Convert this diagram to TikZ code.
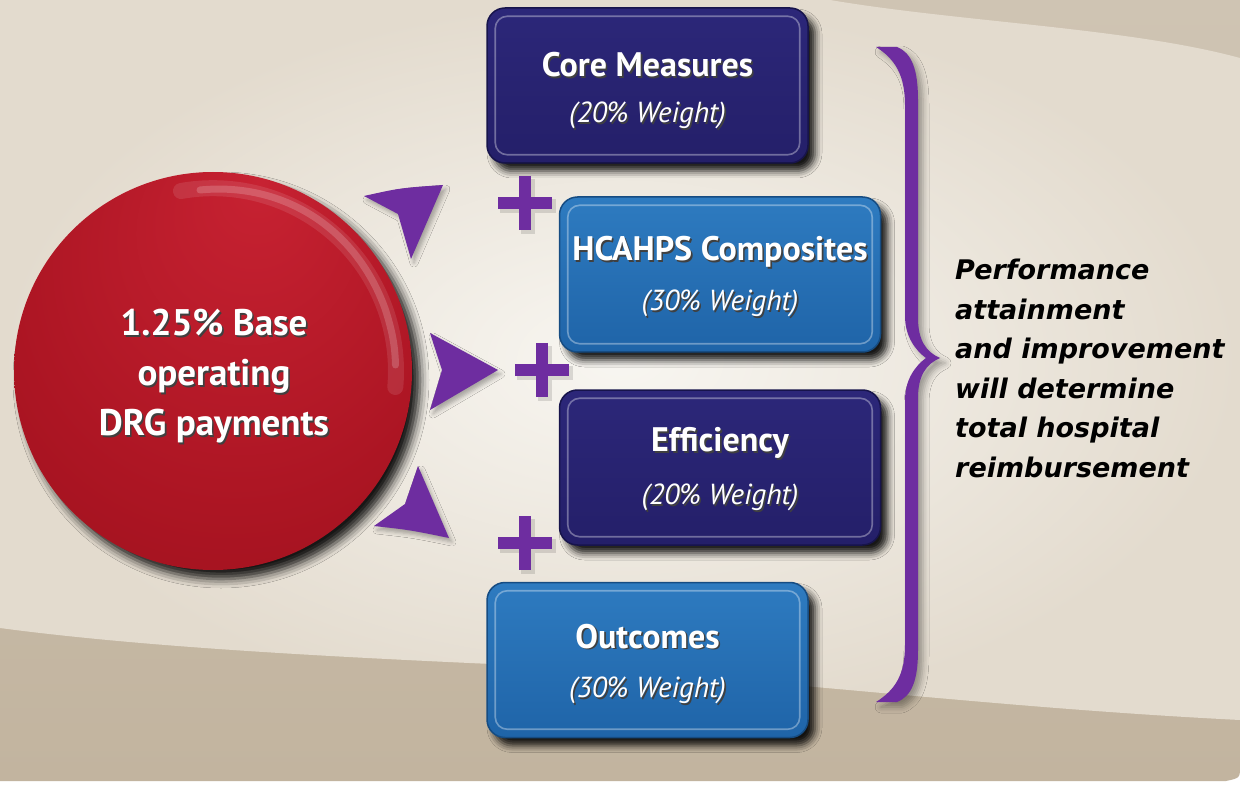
\documentclass[tikz,border=0pt]{standalone}
\usepackage{fontspec}
\setmainfont{PT Sans}
\newfontfamily\verdanalike{DejaVu Sans}
\usetikzlibrary{calc,shadows.blur}

\definecolor{navy}{HTML}{241F69}
\definecolor{navyL}{HTML}{2C2779}
\definecolor{navyD}{HTML}{17144B}
\definecolor{blueM}{HTML}{1F64A8}
\definecolor{blueL}{HTML}{2E7BC0}
\definecolor{blueD}{HTML}{164C82}
\definecolor{purp}{HTML}{6E2DA0}
\definecolor{redA}{HTML}{C72232}
\definecolor{redB}{HTML}{AC1523}
\definecolor{redC}{HTML}{97101B}
\definecolor{bgTop}{HTML}{CFC4B3}
\definecolor{bgBot}{HTML}{C2B49F}
\definecolor{bgMid}{HTML}{E3DBCE}
\definecolor{bgLight}{HTML}{F8F6F1}

\pgfdeclareradialshading{redball}{\pgfpoint{6bp}{24bp}}{%
  color(0bp)=(redA); color(28bp)=(redB); color(48bp)=(redC); color(50bp)=(redC)}

% white text with a soft dark drop behind it
\newcommand{\dropped}[1]{\leavevmode\rlap{\hspace{1.6pt}\raisebox{-1.8pt}{\textcolor{black!75}{#1}}}#1}

\begin{document}
\begin{tikzpicture}[x=1pt,y=-1pt,
  box/.style={rounded corners=18pt, minimum width=321pt, minimum height=155pt,
    inner sep=0pt, line width=1.5pt,
    blur shadow={shadow xshift=7pt, shadow yshift=-8pt, shadow blur radius=7pt, shadow opacity=90}},
  navybox/.style={box, top color=navyL, bottom color=navy, draw=navyD},
  bluebox/.style={box, top color=blueL, bottom color=blueM, draw=blueD},
  sheen/.style={draw=white, line width=1.6pt, opacity=0.35, rounded corners=12pt},
  title/.style={text=white, inner sep=0pt, font=\bfseries\fontsize{34}{40}\selectfont},
  weight/.style={text=white, inner sep=0pt, font=\itshape\fontsize{29}{34}\selectfont},
  plusbar/.style={draw=purp, line width=12pt},
  plusshade/.style={draw=black, opacity=0.12, line width=14pt},
  head/.style={fill=purp, blur shadow={shadow xshift=3pt, shadow yshift=-4pt, shadow blur radius=4pt, shadow opacity=30}}
]
\useasboundingbox (0,0) rectangle (1240,786);

% backdrop
\fill[white] (0,0) rectangle (1240,786);
\shade[top color=bgTop, bottom color=bgBot]
  (0,0) -- (1240,0) -- (1240,766) .. controls (1240,778) .. (1226,781) -- (0,781) -- cycle;
\shade[inner color=bgLight, outer color=bgMid]
  (0,0) -- (830,0) .. controls (960,22) and (1130,28) .. (1240,58)
  -- (1240,720) .. controls (1000,708) and (800,682) .. (560,667)
  .. controls (350,658) and (150,648) .. (0,628) -- cycle;

% base payment disc
\node[circle, minimum size=398pt, inner sep=0pt, shade, shading=redball,
  blur shadow={shadow xshift=8pt, shadow yshift=-9pt, shadow blur radius=9pt, shadow opacity=90}]
  (drg) at (213,371) {};
% glossy rim light along the upper right
\draw[white, opacity=0.10, line width=16pt, line cap=round]
  (181,191) .. controls (268.5,175.6) and (354.6,225) .. (385,308.4)
  .. controls (394.1,333.5) and (397.6,360.4) .. (395.3,387);
\draw[white, opacity=0.18, line width=7pt, line cap=round]
  (200,190) .. controls (280,182) and (354.6,225) .. (385,308.4)
  .. controls (392,330) and (395,345) .. (395.5,365);
\node[text=white, align=center, inner sep=0pt,
  font=\bfseries\fontsize{37}{50}\selectfont] (drg-t) at (214,377)
  {\dropped{1.25\% Base}\\ \dropped{operating}\\ \dropped{DRG payments}};

% measure boxes
\node[navybox] (core) at (647.5,85.5) {};
\node[bluebox] (hcahps) at (720,274.5) {};
\node[navybox] (eff) at (720,467.5) {};
\node[bluebox] (out) at (647.5,660) {};
\foreach \b in {core,hcahps,eff,out}
  \draw[sheen] ($(\b.north west)+(9,9)$) rectangle ($(\b.south east)+(-9,-9)$);

\node[title]  (core-t) at ($(core.center)+(0,-20)$) {\dropped{Core Measures}};
\node[weight] (core-w) at ($(core.center)+(0,31)$) {\dropped{(20\% Weight)}};
\node[title]  (hcahps-t) at ($(hcahps.center)+(0,-22)$) {\dropped{HCAHPS Composites}};
\node[weight] (hcahps-w) at ($(hcahps.center)+(0,30)$) {\dropped{(30\% Weight)}};
\node[title]  (eff-t) at ($(eff.center)+(0,-24)$) {\dropped{Efficiency}};
\node[weight] (eff-w) at ($(eff.center)+(0,31)$) {\dropped{(20\% Weight)}};
\node[title]  (out-t) at ($(out.center)+(0,-23)$) {\dropped{Outcomes}};
\node[weight] (out-w) at ($(out.center)+(0,31)$) {\dropped{(30\% Weight)}};

% arrowheads fanning out of the disc
\fill[head] (364,196) .. controls (400,188) .. (443,185) -- (411,259) -- (398,214) -- cycle;
\fill[head] (430,333) -- (498,370) -- (430,410) -- (442,370) -- cycle;
\fill[head] (418,466) -- (449,538) .. controls (410,530) .. (374,526) -- (405,504) -- cycle;

% plus signs
\foreach \px/\py in {525/203, 542/370, 525/543} {
  \draw[plusshade] (\px-25,\py+3) -- (\px+31,\py+3) (\px+3,\py-24) -- (\px+3,\py+31);
  \draw[plusbar] (\px-27,\py) -- (\px+27,\py) (\px,\py-27) -- (\px,\py+27);
}

% closing brace
\fill[purp, blur shadow={shadow xshift=5pt, shadow yshift=-5pt, shadow blur radius=6pt, shadow opacity=35}]
  (876,47) -- (897,47) .. controls (912,53) and (918,70) .. (918,100)
  -- (918,318) .. controls (918,340) and (926,352) .. (940,358)
  .. controls (926,364) and (918,376) .. (918,398)
  -- (918,650) .. controls (918,680) and (912,696) .. (897,702) -- (876,702)
  .. controls (895,690) and (905,675) .. (905,645)
  -- (905,400) .. controls (905,380) and (915,366) .. (926,358)
  .. controls (915,350) and (905,336) .. (905,316)
  -- (905,105) .. controls (905,75) and (895,59) .. (876,47) -- cycle;

\node[anchor=north west, align=left, inner sep=0pt,
  font=\verdanalike\bfseries\itshape\fontsize{27}{39.5}\selectfont] (perf) at (955,259)
  {Performance\\ attainment\\ and improvement\\ will determine\\ total hospital\\ reimbursement};
\end{tikzpicture}
\end{document}
